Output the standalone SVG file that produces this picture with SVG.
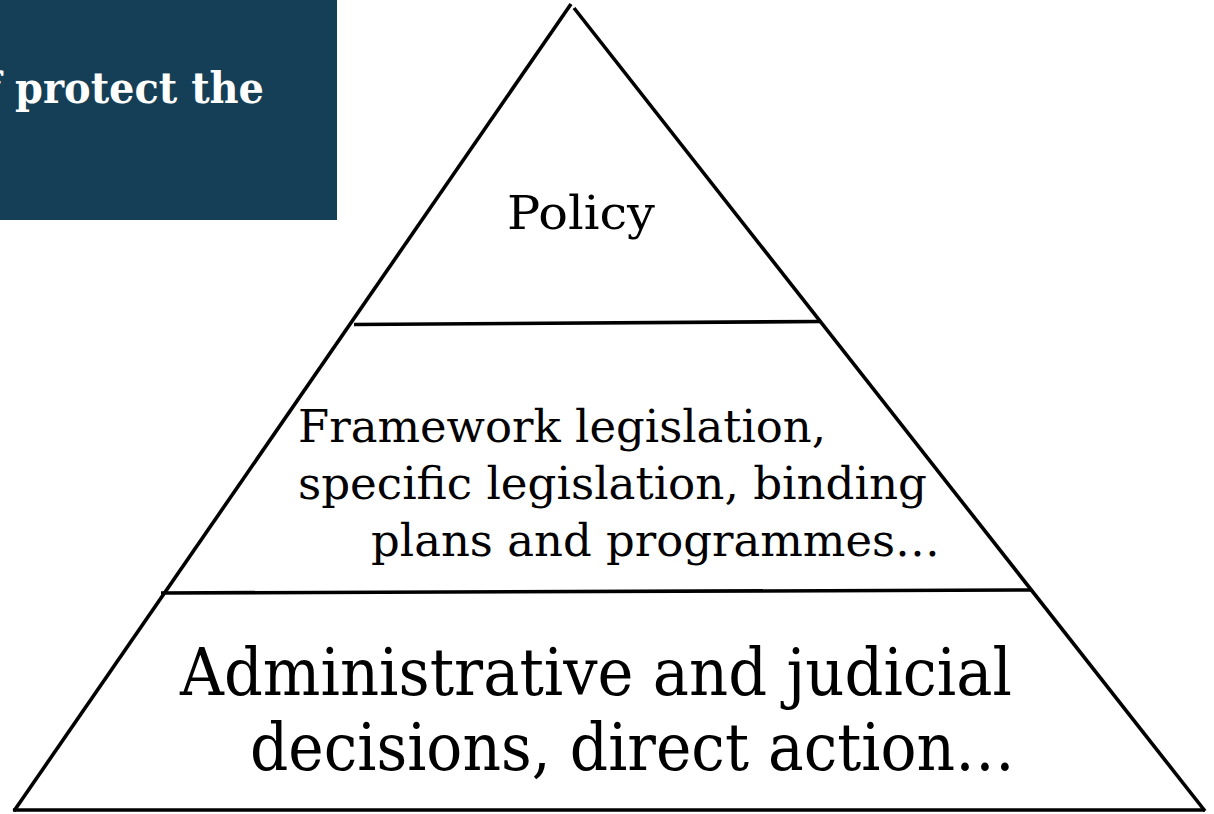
<svg xmlns="http://www.w3.org/2000/svg" width="1214" height="814" viewBox="0 0 1214 814">
<style>
.ln{stroke:#000;stroke-width:3.6;fill:none;stroke-linecap:butt}
.t{font-family:"DejaVu Serif","Liberation Serif",serif;fill:#000}
.hd{font-family:"DejaVu Serif","Liberation Serif",serif;font-weight:bold;fill:#fff}
</style>
<rect width="1214" height="814" fill="#fff"/>
<g id="banner">
<rect x="0" y="0" width="337" height="220" fill="#153f56"/>
<text class="hd" x="-16" y="103" font-size="43" textLength="280" lengthAdjust="spacingAndGlyphs">f protect the</text>
</g>
<g id="connectors">
<line class="ln" x1="571" y1="4" x2="14" y2="811"/>
<line class="ln" x1="574" y1="8" x2="1205" y2="811"/>
<line class="ln" x1="13" y1="810" x2="1205" y2="810"/>
<line class="ln" x1="354" y1="324.5" x2="821" y2="321.5"/>
<line class="ln" x1="161" y1="593" x2="1032" y2="590"/>
</g>
<g id="policy">
<text class="t" x="507" y="229" font-size="47" textLength="148" lengthAdjust="spacingAndGlyphs">Policy</text>
</g>
<g id="legislation">
<text class="t" x="298" y="442" font-size="45" textLength="528" lengthAdjust="spacingAndGlyphs">Framework legislation,</text>
<text class="t" x="298" y="499" font-size="45" textLength="629" lengthAdjust="spacingAndGlyphs">specific legislation, binding</text>
<text class="t" x="371" y="556" font-size="45" textLength="569" lengthAdjust="spacingAndGlyphs">plans and programmes…</text>
</g>
<g id="decisions">
<text class="t" x="180" y="695" font-size="66" textLength="832" lengthAdjust="spacingAndGlyphs">Administrative and judicial</text>
<text class="t" x="250" y="770" font-size="66" textLength="765" lengthAdjust="spacingAndGlyphs">decisions, direct action…</text>
</g>
</svg>
